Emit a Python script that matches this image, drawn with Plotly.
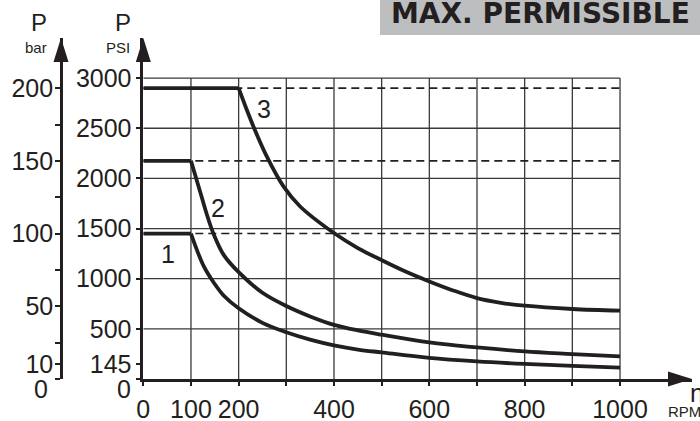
import plotly.graph_objects as go

# ---------------- data ----------------
rpm_1 = [0, 100, 113, 127, 148, 169, 200, 250, 300, 350, 400, 450, 500, 600, 700, 800, 900, 1000]
psi_1 = [1450, 1450, 1280, 1123, 960, 830, 705, 560, 466, 392, 335, 294, 265, 210, 175, 150, 130, 113]

rpm_2 = [0, 100, 120, 134, 148, 169, 200, 250, 300, 350, 400, 450, 500, 600, 700, 800, 900, 1000]
psi_2 = [2175, 2175, 1855, 1630, 1440, 1235, 1065, 860, 728, 624, 540, 485, 442, 365, 315, 275, 249, 225]

rpm_3 = [0, 200, 215, 231, 259, 294, 329, 400, 450, 500, 550, 600, 650, 700, 750, 800, 900, 1000]
psi_3 = [2900, 2900, 2710, 2518, 2219, 1920, 1720, 1455, 1305, 1185, 1072, 973, 883, 807, 760, 731, 698, 681]

limit_psi = [2900, 2175, 1450]          # dashed max-pressure levels (200/150/100 bar)
curve_labels = ["1", "2", "3"]
label_rpm = [52, 157, 254]
label_psi = [1249, 1708, 2690]

x_tickvals = [0, 100, 200, 300, 400, 500, 600, 700, 800, 900, 1000]
x_ticktext = ["0", "100", "200", "", "400", "", "600", "", "800", "", "1000"]
psi_tickvals = [0, 145, 500, 1000, 1500, 2000, 2500, 3000]
psi_ticktext = ["", "145", "500", "1000", "1500", "2000", "2500", "3000"]
bar_tickvals = [0, 10, 50, 100, 150, 200]
bar_ticktext = ["", "10", "50", "100", "150", "200"]
bar_minor = [25, 75, 125, 175]
grid_rpm = [100, 200, 300, 400, 500, 600, 700, 800, 900, 1000]
grid_psi = [500, 1000, 1500, 2000, 2500, 3000]
PSI_PER_BAR = 14.5

# ---------------- layout geometry (pixels) ----------------
FW, FH = 700, 421
L, R, T, B = 61, 8, 38, 42
W, H = FW - L - R, FH - T - B
X0PX = 143.3          # pixel of rpm 0
XMAX = 1151           # rpm at right end of x axis (arrow tip)
YMAX = 3400           # psi at top of y axes (arrow tip)


def px(xp):
    return (xp - L) / W


def py(yp):
    return (FH - B - yp) / H


INK = "#231f20"
FONT = "Liberation Sans, Arial, sans-serif"
TICK_SIZE = 25

fig = go.Figure()

# dashed limit lines
for lv in limit_psi:
    fig.add_trace(go.Scatter(x=[0, 1000], y=[lv, lv], mode="lines",
                             line=dict(color=INK, width=1.6, dash="8px,5px"),
                             hoverinfo="skip", cliponaxis=False))

# curves: flat segment + falling branch
for rr, pp, k in [(rpm_1, psi_1, 1), (rpm_2, psi_2, 1), (rpm_3, psi_3, 1)]:
    fig.add_trace(go.Scatter(x=rr[:k + 1], y=pp[:k + 1], mode="lines",
                             line=dict(color=INK, width=3.8), cliponaxis=False,
                             hoverinfo="skip"))
    fig.add_trace(go.Scatter(x=rr[k:], y=pp[k:], mode="lines",
                             line=dict(color=INK, width=3.8, shape="spline", smoothing=1.0),
                             cliponaxis=False, hoverinfo="skip"))

# bar axis carrier trace (invisible)
fig.add_trace(go.Scatter(x=[0], y=[0], yaxis="y2", mode="markers",
                         marker=dict(opacity=0), hoverinfo="skip"))

shapes = []
for g in grid_rpm:
    shapes.append(dict(type="line", xref="x", yref="y", x0=g, x1=g, y0=0, y1=3000,
                       line=dict(color="#3a3a3a", width=1.3), layer="below"))
for g in grid_psi:
    shapes.append(dict(type="line", xref="x", yref="y", x0=0, x1=1000, y0=g, y1=g,
                       line=dict(color="#3a3a3a", width=1.3), layer="below"))

# arrow heads
shapes.append(dict(type="path", xref="paper", yref="paper", xsizemode="pixel", ysizemode="pixel",
                   xanchor=1, yanchor=0, path="M -24,-7.5 L 0,0 L -24,7.5 Z",
                   fillcolor=INK, line=dict(width=0)))
for ax_x in [px(X0PX), 0]:
    shapes.append(dict(type="path", xref="paper", yref="paper", xsizemode="pixel", ysizemode="pixel",
                       xanchor=ax_x, yanchor=1, path="M -7.5,-24 L 0,0 L 7.5,-24 Z",
                       fillcolor=INK, line=dict(width=0)))

# title box
shapes.append(dict(type="rect", xref="paper", yref="paper", x0=px(380), x1=px(702),
                   y0=py(35), y1=py(-2), fillcolor="#bcbec0", line=dict(width=0)))

ann = []
for t, xr, yp in zip(curve_labels, label_rpm, label_psi):
    ann.append(dict(x=xr, y=yp, xref="x", yref="y", text=t, showarrow=False,
                    font=dict(size=25, color=INK, family=FONT)))


def txt(s, xp, yp, size, xanchor="center", yanchor="middle", bold=False, family=FONT):
    return dict(x=px(xp), y=py(yp), xref="paper", yref="paper", text=(f"<b>{s}</b>" if bold else s),
                showarrow=False, xanchor=xanchor, yanchor=yanchor,
                font=dict(size=size, color=INK, family=family))


ann += [
    txt("MAX. PERMISSIBLE", 389, 13, 28, xanchor="left", bold=True, family="DejaVu Sans, sans-serif"),
    txt("P", 39, 22, 24),
    txt("bar", 35.5, 48, 15),
    txt("P", 123, 22, 24),
    txt("PSI", 117.5, 48, 15),
    txt("0", 133, 389, TICK_SIZE, xanchor="right"),
    txt("0", 50, 389, TICK_SIZE, xanchor="right"),
    txt("n", 688, 393, 25, xanchor="left"),
    txt("RPM", 666, 412, 15, xanchor="left"),
]

fig.update_layout(
    width=FW, height=FH, margin=dict(l=L, r=R, t=T, b=B, autoexpand=False),
    paper_bgcolor="white", plot_bgcolor="white", showlegend=False,
    font=dict(family=FONT, color=INK, size=24),
    xaxis=dict(domain=[px(X0PX), 1], range=[0, XMAX], tickvals=x_tickvals, ticktext=x_ticktext,
               showgrid=False, zeroline=False, showline=True, linecolor=INK, linewidth=2.6,
               ticks="outside", ticklen=4, tickwidth=1.5, tickcolor=INK, ticklabelstandoff=2,
               automargin=False, tickfont=dict(size=TICK_SIZE, color=INK, family=FONT)),
    yaxis=dict(range=[0, YMAX], tickvals=psi_tickvals, ticktext=psi_ticktext,
               showgrid=False, zeroline=False, showline=True, linecolor=INK, linewidth=2.6,
               ticks="outside", ticklen=5, tickwidth=1.5, tickcolor=INK, automargin=False,
               ticklabelstandoff=-1, tickfont=dict(size=TICK_SIZE, color=INK, family=FONT)),
    yaxis2=dict(range=[0, YMAX / PSI_PER_BAR], overlaying="y", anchor="free", position=0, side="left",
                tickvals=bar_tickvals, ticktext=bar_ticktext, automargin=False,
                showgrid=False, zeroline=False, showline=True, linecolor=INK, linewidth=2.6,
                ticks="outside", ticklen=5, tickwidth=1.5, tickcolor=INK, ticklabelstandoff=-3,
                minor=dict(tickvals=bar_minor, ticks="outside", ticklen=5, tickwidth=1.5, tickcolor=INK),
                tickfont=dict(size=TICK_SIZE, color=INK, family=FONT)),
    shapes=shapes, annotations=ann,
)

fig.write_html("out.html", config={"displayModeBar": False},
               post_script="document.body.style.margin='0';document.body.style.overflow='hidden';")
